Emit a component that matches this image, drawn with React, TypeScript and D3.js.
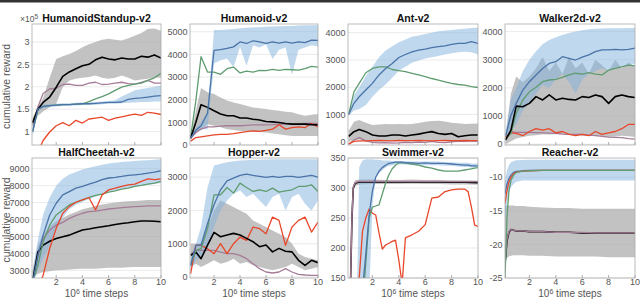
import React from "react";
import * as d3 from "d3";

// shared x grid (10^6 time steps)
const XS = [0.2, 0.6, 1, 1.5, 2, 2.5, 3, 3.5, 4, 4.5, 5, 5.5, 6, 6.5, 7, 7.5, 8, 8.5, 9, 9.5, 10];
const X_TICKS = [2, 4, 6, 8, 10];

// HumanoidStandup-v2 (x10^5)
const standupBlue = [1.0, 1.5, 1.56, 1.58, 1.59, 1.6, 1.6, 1.61, 1.62, 1.62, 1.63, 1.64, 1.65, 1.65, 1.66, 1.72, 1.74, 1.75, 1.77, 1.79, 1.8];
const standupBlueLo = [0.9, 1.45, 1.52, 1.55, 1.56, 1.57, 1.58, 1.58, 1.59, 1.59, 1.6, 1.61, 1.62, 1.62, 1.63, 1.64, 1.65, 1.66, 1.66, 1.67, 1.67];
const standupBlueHi = [1.1, 1.55, 1.6, 1.61, 1.62, 1.63, 1.63, 1.64, 1.65, 1.65, 1.66, 1.67, 1.68, 1.7, 1.78, 1.85, 1.92, 1.95, 1.97, 2.0, 2.03];
const standupGreen = [1.0, 1.5, 1.56, 1.58, 1.59, 1.6, 1.6, 1.61, 1.62, 1.67, 1.73, 1.78, 1.84, 1.92, 1.99, 2.03, 2.06, 2.08, 2.14, 2.2, 2.3];
const standupBlack = [1.2, 1.5, 1.65, 1.77, 1.99, 2.23, 2.33, 2.4, 2.47, 2.5, 2.6, 2.66, 2.62, 2.6, 2.64, 2.62, 2.62, 2.68, 2.66, 2.71, 2.64];
const standupBlackLo = [1.1, 1.35, 1.45, 1.54, 1.62, 1.99, 2.14, 2.18, 2.2, 2.22, 2.25, 2.2, 2.18, 2.2, 2.25, 2.2, 2.14, 2.16, 2.18, 2.2, 2.2];
const standupBlackHi = [1.3, 1.55, 1.75, 2.2, 2.62, 2.68, 2.73, 2.8, 2.88, 2.95, 3.0, 3.05, 3.07, 3.05, 3.03, 3.08, 3.14, 3.2, 3.29, 3.3, 3.25];
const standupRed = [0.5, 0.55, 0.8, 0.99, 1.13, 1.2, 1.13, 1.25, 1.19, 1.28, 1.3, 1.32, 1.25, 1.3, 1.33, 1.36, 1.39, 1.36, 1.43, 1.41, 1.38];
const standupPurple = [1.15, 1.55, 1.85, 1.95, 1.97, 2.05, 2.06, 2.03, 2.03, 2.08, 2.1, 2.05, 2.06, 2.08, 2.1, 2.07, 2.06, 2.1, 2.14, 2.08, 2.08];

// Humanoid-v2
const humBlue = [300, 650, 850, 1400, 4180, 4210, 4260, 4330, 4550, 4480, 4600, 4550, 4480, 4550, 4500, 4550, 4500, 4550, 4520, 4630, 4620];
const humBlueLo = [250, 550, 700, 700, 3600, 3740, 3810, 3440, 4330, 3500, 4400, 4300, 4450, 3800, 4200, 4300, 3100, 4200, 4300, 4400, 4350];
const humBlueHi = [350, 750, 1000, 1500, 5070, 5080, 5100, 5120, 5150, 5170, 5190, 5200, 5220, 5230, 5240, 5250, 5250, 5270, 5280, 5290, 5300];
const humGreen = [350, 1960, 3900, 3220, 3220, 3120, 3370, 3440, 3180, 3260, 3220, 3290, 3280, 3340, 3290, 3340, 3320, 3300, 3370, 3470, 3440];
const humBlack = [300, 1000, 1780, 1660, 1510, 1370, 1290, 1290, 1190, 1190, 1140, 1100, 1040, 1020, 990, 950, 920, 930, 920, 900, 890];
const humBlackLo = [250, 500, 700, 920, 850, 780, 700, 660, 620, 600, 590, 570, 550, 510, 470, 430, 400, 400, 400, 400, 400];
const humBlackHi = [350, 1500, 2520, 2330, 2250, 2100, 1960, 1880, 1810, 1730, 1660, 1620, 1590, 1550, 1510, 1470, 1440, 1360, 1290, 1330, 1370];
const humRed = [170, 330, 360, 400, 445, 470, 470, 500, 550, 590, 620, 600, 650, 700, 890, 700, 770, 800, 770, 950, 800];
const humPurple = [300, 550, 700, 800, 800, 830, 850, 850, 850, 870, 890, 890, 890, 900, 920, 920, 920, 930, 950, 950, 950];

// Ant-v2
const antBlue = [1000, 1410, 1650, 1900, 2140, 2450, 2690, 2870, 3090, 3200, 3300, 3360, 3400, 3450, 3490, 3520, 3570, 3610, 3610, 3670, 3610];
const antBlueLo = [950, 1150, 1200, 1350, 1650, 1900, 2100, 2350, 2600, 2750, 2900, 2980, 3050, 3100, 3150, 3200, 3250, 3280, 3300, 3280, 3200];
const antBlueHi = [1050, 1700, 2000, 2400, 2750, 3100, 3350, 3500, 3650, 3750, 3850, 3900, 3950, 4000, 4050, 4080, 4100, 4130, 4150, 4170, 4180];
const antGreen = [1000, 1830, 2140, 2530, 2690, 2750, 2750, 2650, 2610, 2570, 2510, 2450, 2390, 2320, 2260, 2200, 2140, 2100, 2080, 2020, 1990];
const antBlack = [200, 370, 450, 370, 245, 210, 210, 245, 245, 210, 245, 280, 330, 370, 305, 270, 305, 180, 220, 245, 245];
const antBlackLo = [20, 50, 80, 30, 0, 0, 10, 20, 20, 10, 20, 30, 40, 50, 40, 30, 30, 20, 20, 20, 20];
const antBlackHi = [400, 730, 800, 700, 610, 630, 650, 640, 650, 640, 650, 690, 730, 760, 770, 740, 700, 680, 650, 660, 670];
const antRed = [-80, 10, 30, 35, 40, 45, 40, 35, 45, 40, 40, 45, 40, 35, 40, 45, 40, 40, 45, 40, 40];
const antPurple = [-100, 60, 150, 30, -20, -40, -30, -50, -40, -20, -30, -10, -20, 10, -20, -30, 0, 20, 10, 30, 20];

// Walker2d-v2
const walkBlue = [300, 1030, 1450, 1920, 2220, 2460, 2690, 2870, 2930, 3110, 3050, 2990, 3090, 3170, 3290, 3350, 3350, 3370, 3350, 3370, 3410];
const walkBlueLo = [150, 500, 700, 1200, 1500, 1800, 2100, 2000, 2300, 2500, 2200, 1800, 2300, 2500, 2600, 2700, 2600, 2700, 2750, 2800, 2850];
const walkBlueHi = [450, 1600, 2000, 2600, 3000, 3300, 3550, 3700, 3800, 3880, 3950, 4000, 4050, 4080, 4100, 4110, 4120, 4120, 4120, 4130, 4130];
const walkGreen = [200, 380, 1090, 1570, 1860, 2020, 2220, 2280, 2300, 2370, 2460, 2520, 2490, 2540, 2490, 2460, 2630, 2690, 2750, 2810, 2780];
const walkBlack = [150, 500, 1350, 1330, 1450, 1690, 1570, 1750, 1570, 1630, 1590, 1570, 1690, 1660, 1750, 1690, 1450, 1690, 1750, 1690, 1660];
const walkBlackLo = [0, 100, 200, 250, 300, 320, 350, 340, 350, 360, 350, 330, 300, 310, 300, 280, 250, 270, 300, 280, 250];
const walkBlackHi = [300, 1800, 2400, 2200, 2400, 2700, 3100, 2600, 2900, 2500, 3100, 2700, 2900, 2500, 3000, 2800, 2600, 3000, 2700, 2900, 2750];
const walkRed = [250, 400, 380, 300, 450, 550, 500, 550, 400, 450, 350, 300, 350, 300, 450, 350, 400, 450, 550, 700, 700];
const walkPurple = [250, 450, 420, 420, 420, 410, 400, 390, 380, 360, 350, 350, 350, 320, 300, 280, 250, 240, 230, 200, 180];

// HalfCheetah-v2
const hcBlue = [2300, 3890, 5080, 6270, 6960, 7450, 7650, 7850, 7950, 8090, 8210, 8350, 8450, 8490, 8540, 8600, 8640, 8680, 8740, 8800, 8880];
const hcBlueLo = [2300, 3000, 3700, 4500, 5500, 6100, 6600, 6850, 7050, 7200, 7350, 7500, 7650, 7730, 7800, 7880, 7950, 8000, 8050, 8100, 8150];
const hcBlueHi = [3000, 4800, 6300, 7300, 8000, 8400, 8650, 8800, 8950, 9050, 9150, 9230, 9300, 9350, 9400, 9420, 9450, 9480, 9500, 9530, 9550];
const hcGreen = [2300, 3300, 4680, 5670, 6270, 6560, 6860, 7020, 7160, 7300, 7420, 7500, 7610, 7690, 7790, 7850, 7950, 8010, 8090, 8150, 8250];
const hcBlack = [2400, 4090, 4490, 4720, 4880, 4980, 5080, 5240, 5380, 5440, 5510, 5570, 5630, 5710, 5770, 5810, 5870, 5910, 5910, 5900, 5870];
const hcBlackLo = [2550, 2800, 2900, 2950, 3000, 3020, 3050, 3080, 3100, 3100, 3100, 3120, 3150, 3150, 3150, 3180, 3200, 3200, 3200, 3200, 3200];
const hcBlackHi = [3000, 4500, 5100, 5600, 5900, 6100, 6300, 6450, 6600, 6700, 6800, 6880, 6950, 7000, 7050, 7080, 7100, 7120, 7150, 7150, 7150];
const hcRed = [1500, 2000, 2700, 4290, 5480, 6370, 6760, 7020, 7160, 7300, 6560, 7450, 7750, 7850, 7950, 8050, 8090, 8250, 8400, 8350, 8400];
const hcPurple = [2400, 3800, 4880, 5380, 5670, 5830, 6070, 6230, 6370, 6470, 6500, 6560, 6620, 6660, 6700, 6730, 6760, 6780, 6800, 6800, 6800];

// Hopper-v2
const hopBlue = [350, 960, 960, 1610, 2170, 2620, 2890, 2970, 3050, 3090, 3050, 3020, 2990, 3020, 2990, 3020, 3020, 2990, 3020, 3050, 3000];
const hopBlueLo = [200, 500, 600, 900, 1500, 2000, 2300, 2500, 2600, 2400, 2500, 2300, 2100, 2400, 2500, 2000, 2400, 2500, 2200, 2000, 2300];
const hopBlueHi = [500, 1000, 1500, 2700, 3350, 3400, 3450, 3480, 3500, 3510, 3520, 3525, 3530, 3535, 3540, 3540, 3540, 3540, 3540, 3540, 3540];
const hopGreen = [350, 800, 850, 1460, 2470, 2470, 2690, 2520, 2820, 2690, 2570, 2620, 2570, 2670, 2550, 2590, 2620, 2720, 2720, 2770, 2570];
const hopBlack = [650, 750, 550, 960, 1340, 1210, 1260, 1310, 1260, 1160, 1060, 910, 960, 755, 860, 775, 755, 500, 350, 500, 430];
const hopBlackLo = [300, 400, 300, 400, 500, 400, 450, 550, 400, 450, 350, 300, 250, 200, 250, 300, 400, 300, 200, 250, 300];
const hopBlackHi = [1000, 1000, 1000, 1500, 2000, 2300, 2200, 2100, 2000, 1900, 1700, 1600, 1500, 1400, 1300, 1200, 1000, 700, 600, 550, 500];
const hopRed = [100, 950, 950, 850, 700, 1000, 700, 1000, 1200, 1100, 1500, 1450, 1300, 1800, 1700, 950, 1500, 1700, 1800, 1350, 1650];
const hopPurple = [700, 800, 800, 800, 800, 750, 700, 700, 650, 550, 400, 250, 150, 120, 150, 250, 150, 80, 60, 50, 50];

// Swimmer-v2 (finer grid)
const swimX = [0.2, 0.4, 0.6, 0.8, 0.9, 1, 1.25, 1.5, 1.75, 2, 2.25, 2.5, 2.75, 3, 3.25, 3.5, 3.75, 4, 4.25, 4.5, 5, 5.5, 6, 6.5, 7, 7.5, 8, 8.5, 9, 9.25, 9.5, 9.75, 10];
const swimBlue = [100, 100, 100, 100, 100, 100, 130, 190, 255, 295, 318, 328, 334, 338, 341, 342, 343, 343, 343, 342, 342, 341, 342, 341, 341, 341, 340, 339, 338, 338, 337, 337, 337];
const swimBlueLo = [100, 100, 100, 100, 100, 100, 100, 100, 120, 270, 318, 324, 330, 334, 337, 338, 339, 339, 339, 339, 338, 338, 338, 338, 338, 337, 337, 336, 335, 335, 334, 334, 334];
const swimBlueHi = [100, 100, 100, 110, 200, 335, 346, 348, 348, 348, 347, 347, 346, 346, 346, 345, 345, 345, 345, 345, 344, 344, 344, 344, 344, 343, 343, 342, 342, 342, 341, 341, 341];
const swimGreen = [100, 100, 100, 100, 100, 100, 100, 175, 250, 268, 270, 272, 290, 308, 322, 332, 338, 342, 342, 342, 340, 338, 335, 333, 330, 328, 328, 328, 330, 331, 332, 333, 334];
const swimRed = [100, 100, 100, 100, 100, 150, 228, 250, 265, 258, 255, 225, 198, 205, 208, 211, 213, 180, 140, 217, 222, 228, 239, 283, 285, 294, 297, 298, 298, 294, 268, 238, 236];
const swimFlatX = [0.2, 0.35, 0.45, 0.55, 0.7, 1, 2, 3, 4, 5, 6, 7, 8, 9, 10];
const swimBlack = [60, 150, 250, 300, 308, 310, 310.5, 310, 310, 310.5, 310, 310, 309.5, 309.5, 309];
const swimBlackLo = [50, 140, 242, 294, 303, 306, 306.5, 306.5, 306.5, 307, 306.5, 306.5, 306, 306, 305.5];
const swimBlackHi = [70, 160, 258, 306, 313, 314, 314, 313.5, 313.5, 314, 313.5, 313.5, 313, 313, 312.5];
const swimPurple = [60, 152, 252, 302, 309, 311, 311.5, 311, 311, 311, 311, 311, 310.5, 310.5, 310.5];

// Reacher-v2
const reachX = [0.15, 0.3, 0.45, 0.6, 0.8, 1, 1.5, 2, 3, 4, 5, 6, 7, 8, 9, 10];
const reachBlue = [-12.5, -11, -10.2, -9.7, -9.3, -9.15, -9.05, -9.0, -9.0, -9.0, -9.0, -9.0, -9.0, -9.0, -9.0, -9.0];
const reachBlueLo = [-17, -14, -12.3, -11.5, -11, -10.7, -10.5, -10.5, -10.5, -10.5, -10.5, -10.5, -10.5, -10.5, -10.5, -10.5];
const reachBlueHi = [-10.5, -9, -8.2, -7.8, -7.6, -7.5, -7.45, -7.4, -7.4, -7.4, -7.4, -7.4, -7.4, -7.4, -7.4, -7.4];
const reachGreen = [-25, -16, -12, -10.5, -9.7, -9.3, -9.1, -9.05, -9.0, -9.0, -9.0, -9.0, -9.0, -9.0, -9.0, -9.0];
const reachRed = [-13.9, -12, -10.7, -10, -9.5, -9.25, -9.1, -9.05, -9.0, -9.0, -9.0, -9.0, -9.0, -9.0, -9.0, -9.0];
const reachBlack = [-23, -19.5, -18.2, -17.8, -17.9, -18.0, -18.0, -18.1, -18.1, -18.2, -18.2, -18.3, -18.3, -18.3, -18.3, -18.3];
const reachBlackLo = [-22.5, -22, -21.8, -21.7, -21.6, -21.6, -21.6, -21.7, -21.7, -21.8, -21.8, -21.8, -21.8, -21.9, -21.9, -21.9];
const reachBlackHi = [-14.2, -14.2, -14.2, -14.2, -14.2, -14.3, -14.3, -14.4, -14.5, -14.6, -14.6, -14.7, -14.7, -14.7, -14.7, -14.7];
const reachPurple = [-22.5, -19.3, -18.1, -17.8, -17.9, -18.0, -18.0, -18.1, -18.1, -18.2, -18.2, -18.2, -18.3, -18.3, -18.3, -18.3];

const BLUE = "#4a73a8";
const GREEN = "#5f9c70";
const RED = "#e8472a";
const PURPLE = "#a67b98";
const BLACK = "#000";
const FONT = "Liberation Sans, Arial, sans-serif";

const COLS: [number, number][] = [[32, 161], [190, 318], [348, 478], [505, 635]];
const ROWS: [number, number][] = [[24, 145], [158, 278]];

type Line = { x: number[]; y: number[]; color: string; w: number };
type Band = { x: number[]; lo: number[]; hi: number[]; fill: string; op: number };
type Panel = {
  title: string;
  row: number;
  col: number;
  domain: [number, number];
  ticks: number[];
  bands: Band[];
  lines: Line[];
};

const gray = (x: number[], lo: number[], hi: number[]): Band => ({ x, lo, hi, fill: "#a8a8a8", op: 0.7 });
const blueBand = (x: number[], lo: number[], hi: number[]): Band => ({ x, lo, hi, fill: "#7fb2de", op: 0.5 });
const ln = (x: number[], y: number[], color: string): Line => ({ x, y, color, w: color === BLACK ? 1.6 : 1.3 });

const panels: Panel[] = [
  {
    title: "HumanoidStandup-v2", row: 0, col: 0, domain: [0.7, 3.4], ticks: [1, 1.5, 2, 2.5, 3],
    bands: [gray(XS, standupBlackLo, standupBlackHi), blueBand(XS, standupBlueLo, standupBlueHi)],
    lines: [ln(XS, standupPurple, PURPLE), ln(XS, standupRed, RED), ln(XS, standupGreen, GREEN), ln(XS, standupBlack, BLACK), ln(XS, standupBlue, BLUE)],
  },
  {
    title: "Humanoid-v2", row: 0, col: 1, domain: [0, 5340], ticks: [0, 1000, 2000, 3000, 4000, 5000],
    bands: [gray(XS, humBlackLo, humBlackHi), blueBand(XS, humBlueLo, humBlueHi)],
    lines: [ln(XS, humPurple, PURPLE), ln(XS, humRed, RED), ln(XS, humGreen, GREEN), ln(XS, humBlack, BLACK), ln(XS, humBlue, BLUE)],
  },
  {
    title: "Ant-v2", row: 0, col: 2, domain: [-120, 4320], ticks: [0, 1000, 2000, 3000, 4000],
    bands: [gray(XS, antBlackLo, antBlackHi), blueBand(XS, antBlueLo, antBlueHi)],
    lines: [ln(XS, antPurple, PURPLE), ln(XS, antRed, RED), ln(XS, antGreen, GREEN), ln(XS, antBlack, BLACK), ln(XS, antBlue, BLUE)],
  },
  {
    title: "Walker2d-v2", row: 0, col: 3, domain: [-30, 4270], ticks: [0, 1000, 2000, 3000, 4000],
    bands: [gray(XS, walkBlackLo, walkBlackHi), blueBand(XS, walkBlueLo, walkBlueHi)],
    lines: [ln(XS, walkPurple, PURPLE), ln(XS, walkRed, RED), ln(XS, walkGreen, GREEN), ln(XS, walkBlack, BLACK), ln(XS, walkBlue, BLUE)],
  },
  {
    title: "HalfCheetah-v2", row: 1, col: 0, domain: [2550, 9630], ticks: [3000, 4000, 5000, 6000, 7000, 8000, 9000],
    bands: [gray(XS, hcBlackLo, hcBlackHi), blueBand(XS, hcBlueLo, hcBlueHi)],
    lines: [ln(XS, hcPurple, PURPLE), ln(XS, hcBlack, BLACK), ln(XS, hcGreen, GREEN), ln(XS, hcRed, RED), ln(XS, hcBlue, BLUE)],
  },
  {
    title: "Hopper-v2", row: 1, col: 1, domain: [-30, 3575], ticks: [0, 1000, 2000, 3000],
    bands: [gray(XS, hopBlackLo, hopBlackHi), blueBand(XS, hopBlueLo, hopBlueHi)],
    lines: [ln(XS, hopPurple, PURPLE), ln(XS, hopRed, RED), ln(XS, hopBlack, BLACK), ln(XS, hopGreen, GREEN), ln(XS, hopBlue, BLUE)],
  },
  {
    title: "Swimmer-v2", row: 1, col: 2, domain: [150, 350], ticks: [150, 200, 250, 300, 350],
    bands: [gray(swimFlatX, swimBlackLo, swimBlackHi), blueBand(swimX, swimBlueLo, swimBlueHi)],
    lines: [ln(swimX, swimRed, RED), ln(swimFlatX, swimBlack, BLACK), ln(swimFlatX, swimPurple, PURPLE), ln(swimX, swimGreen, GREEN), ln(swimX, swimBlue, BLUE)],
  },
  {
    title: "Reacher-v2", row: 1, col: 3, domain: [-25, -7.15], ticks: [-25, -20, -15, -10],
    bands: [gray(reachX, reachBlackLo, reachBlackHi), blueBand(reachX, reachBlueLo, reachBlueHi)],
    lines: [ln(reachX, reachBlack, BLACK), ln(reachX, reachPurple, PURPLE), ln(reachX, reachBlue, BLUE), ln(reachX, reachRed, RED), ln(reachX, reachGreen, GREEN)],
  },
];

function PanelView({ p, idx }: { p: Panel; idx: number }) {
  const [x0, x1] = COLS[p.col];
  const [y0, y1] = ROWS[p.row];
  const x = d3.scaleLinear().domain([0.15, 10]).range([x0, x1]);
  const y = d3.scaleLinear().domain(p.domain).range([y1, y0]);
  const clipId = `clip${idx}`;
  const bottom = p.row === 1;

  return (
    <g>
      <defs>
        <clipPath id={clipId}>
          <rect x={x0} y={y0} width={x1 - x0} height={y1 - y0} />
        </clipPath>
      </defs>
      <rect x={x0} y={y0} width={x1 - x0} height={y1 - y0} fill="#fff" />
      {p.ticks.map((t) => (
        <g key={t}>
          <line x1={x0} x2={x1} y1={y(t)} y2={y(t)} stroke="#e6e6e6" strokeWidth={0.8} />
          <text x={x0 - 2.5} y={y(t) + 3.2} textAnchor="end" fontSize={9} fill="#555" fontFamily={FONT}>
            {t}
          </text>
        </g>
      ))}
      <g clipPath={`url(#${clipId})`}>
        {p.bands.map((b, i) => {
          const area = d3
            .area<number>()
            .x((_, j) => x(b.x[j]))
            .y0((_, j) => y(b.lo[j]))
            .y1((_, j) => y(b.hi[j]));
          return <path key={i} d={area(b.x) ?? ""} fill={b.fill} fillOpacity={b.op} stroke="none" />;
        })}
        {p.lines.map((l, i) => {
          const line = d3
            .line<number>()
            .x((_, j) => x(l.x[j]))
            .y((_, j) => y(l.y[j]));
          return (
            <path key={i} d={line(l.x) ?? ""} fill="none" stroke={l.color} strokeWidth={l.w} strokeLinejoin="round" />
          );
        })}
      </g>
      {X_TICKS.map((t) => (
        <line key={t} x1={x(t)} x2={x(t)} y1={y1} y2={y1 - 3} stroke="#999" strokeWidth={0.8} />
      ))}
      <rect x={x0} y={y0} width={x1 - x0} height={y1 - y0} fill="none" stroke="#aaa" strokeWidth={0.8} />
      <text
        x={(x0 + x1) / 2}
        y={y0 - 2.5}
        textAnchor="middle"
        fontSize={10.5}
        fontWeight="bold"
        fill="#111"
        fontFamily={FONT}
      >
        {p.title}
      </text>
      {bottom &&
        X_TICKS.map((t) => (
          <text key={t} x={x(t)} y={y1 + 7} textAnchor="middle" fontSize={9} fill="#555" fontFamily={FONT}>
            {t}
          </text>
        ))}
      {bottom && (
        <text x={(x0 + x1) / 2} y={y1 + 19} textAnchor="middle" fontSize={10} fill="#555" fontFamily={FONT}>
          10<tspan dy={-3.5} fontSize={7}>6</tspan>
          <tspan dy={3.5}> time steps</tspan>
        </text>
      )}
      {p.col === 0 && (
        <text
          transform={`translate(9.5,${(y0 + y1) / 2 + 2}) rotate(-90)`}
          textAnchor="middle"
          fontSize={10.5}
          fill="#555"
          fontFamily={FONT}
        >
          cumulative reward
        </text>
      )}
      {p.row === 0 && p.col === 0 && (
        <text x={38} y={22} textAnchor="end" fontSize={8.5} fill="#555" fontFamily={FONT}>
          ×10<tspan dy={-3.5} fontSize={6.5}>5</tspan>
        </text>
      )}
    </g>
  );
}

export default function App() {
  return (
    <svg width={640} height={300} style={{ position: "absolute", left: 0, top: 0, background: "#fff" }}>
      <rect x={0} y={0} width={640} height={300} fill="#fff" />
      <rect x={0} y={0} width={640} height={2.5} fill="#333" />
      {panels.map((p, i) => (
        <PanelView key={p.title} p={p} idx={i} />
      ))}
    </svg>
  );
}
